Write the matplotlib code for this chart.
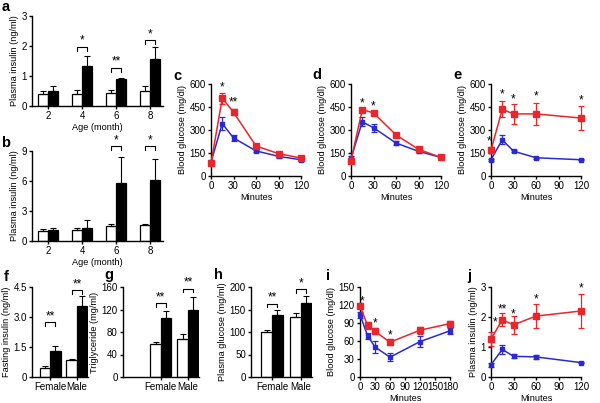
import matplotlib
matplotlib.use('Agg')
import matplotlib.pyplot as plt
import numpy as np

plt.rcParams['font.family'] = ['Liberation Sans', 'DejaVu Sans']
plt.rcParams['font.size'] = 6.5

RED = '#e8262b'
BLUE = '#2a2ad4'
TICK_FS = 7
LABEL_FS = 6.6
STAR_FS = 8.5

# ---------------- data ----------------
ages = ['2', '4', '6', '8']
a_wt = [0.39, 0.39, 0.45, 0.50]
a_wt_err = [0.11, 0.14, 0.08, 0.16]
a_ko = [0.51, 1.35, 0.90, 1.56]
a_ko_err = [0.15, 0.31, 0.05, 0.39]
a_sig = ['', '*', '**', '*']
a_sig_y = [0, 1.97, 1.27, 2.2]

b_wt = [1.03, 1.10, 1.50, 1.60]
b_wt_err = [0.17, 0.16, 0.23, 0.13]
b_ko = [1.10, 1.33, 5.81, 6.15]
b_ko_err = [0.23, 0.76, 2.6, 2.02]
b_sig = ['', '', '*', '*']
b_sig_y = [0, 0, 9.5, 9.5]

t6 = [0, 15, 30, 60, 90, 120]
c_red = [83, 507, 416, 196, 146, 117]
c_red_err = [10, 35, 20, 8, 8, 6]
c_blue = [90, 342, 248, 164, 128, 106]
c_blue_err = [8, 45, 22, 8, 8, 6]
c_sig_x = [15, 30]
c_sig = ['*', '**']
c_sig_y = [540, 440]

d_red = [100, 432, 412, 268, 174, 121]
d_red_err = [10, 8, 8, 8, 8, 6]
d_blue = [115, 353, 315, 215, 161, 121]
d_blue_err = [15, 30, 25, 15, 12, 6]
d_sig_x = [15, 30]
d_sig = ['*', '*']
d_sig_y = [436, 412]

t5 = [0, 15, 30, 60, 120]
e_red = [169, 435, 405, 405, 378]
e_red_err = [20, 53, 63, 73, 76]
e_blue = [106, 236, 162, 119, 106]
e_blue_err = [6, 30, 8, 5, 4]
e_sig_x = [-3, 15, 30, 60, 120]
e_sig = ['*', '*', '*', '*', '*']
e_sig_y = [185, 495, 462, 478, 455]

sexes = ['Female', 'Male']
f_wt = [0.45, 0.83]
f_wt_err = [0.08, 0.09]
f_ko = [1.28, 3.57]
f_ko_err = [0.25, 0.46]
f_sig = ['**', '**']
f_sig_y = [2.75, 4.33]

g_wt = [58, 68]
g_wt_err = [5, 9]
g_ko = [105.5, 120]
g_ko_err = [11.5, 23]
g_sig = ['**', '**']
g_sig_y = [131.5, 157]

h_wt = [100, 133]
h_wt_err = [5, 10]
h_ko = [137, 165]
h_ko_err = [11, 14]
h_sig = ['**', '*']
h_sig_y = [163, 195]

t_i = [0, 15, 30, 60, 120, 180]
i_red = [119, 86, 76, 58, 78, 89]
i_red_err = [4, 6, 5, 5, 6, 5]
i_blue = [104, 69, 50, 33, 59, 77]
i_blue_err = [5, 5, 10, 7, 9, 5]
i_sig_x = [5, 30, 60]
i_sig = ['*', '*', '*']
i_sig_y = [116, 79, 59]

j_red = [1.26, 1.91, 1.74, 2.03, 2.20]
j_red_err = [0.24, 0.22, 0.29, 0.41, 0.58]
j_blue = [0.41, 0.92, 0.69, 0.67, 0.48]
j_blue_err = [0.06, 0.16, 0.07, 0.08, 0.02]
j_sig_x = [5, 15.5, 30, 60, 120]
j_sig = ['*', '**', '*', '*', '*']
j_sig_y = [1.62, 2.05, 1.88, 2.38, 2.74]

# ---------------- figure ----------------
W, H = 600, 403
fig = plt.figure(figsize=(6, 4.03), dpi=100)


def add_ax(x0, x1, yt, yb):
    ax = fig.add_axes([x0 / W, 1 - yb / H, (x1 - x0) / W, (yb - yt) / H])
    for s in ['top', 'right']:
        ax.spines[s].set_visible(False)
    for s in ['left', 'bottom']:
        ax.spines[s].set_linewidth(1.0)
    ax.tick_params(length=2.5, width=1, pad=1.2, labelsize=TICK_FS)
    return ax


def bracket(ax, x1, x2, y, h, text):
    ax.plot([x1, x1, x2, x2], [y - h, y, y, y - h], color='black', lw=0.8,
            clip_on=False)
    ax.text((x1 + x2) / 2, y, text, ha='center', va='bottom', fontsize=STAR_FS,
            clip_on=False)


def bars(ax, labels, wt, wt_err, ko, ko_err, sig, sig_y, bw, h):
    x = np.arange(len(labels))
    ax.bar(x - bw / 2, wt, bw, color='white', edgecolor='black', lw=0.9,
           yerr=[np.zeros(len(wt)), wt_err],
           error_kw=dict(ecolor='black', elinewidth=0.8, capsize=2.2, capthick=0.8))
    ax.bar(x + bw / 2, ko, bw, color='black', edgecolor='black', lw=0.9,
           yerr=[np.zeros(len(ko)), ko_err],
           error_kw=dict(ecolor='black', elinewidth=0.8, capsize=2.2, capthick=0.8))
    for xi, s, y in zip(x, sig, sig_y):
        if s:
            bracket(ax, xi - bw / 2, xi + bw / 2, y, h, s)
    ax.set_xticks(x)
    ax.set_xticklabels(labels)


def lines(ax, t, red, red_err, blue, blue_err):
    ax.errorbar(t, blue, yerr=blue_err, color=BLUE, marker='s', ms=3.2,
                lw=1.1, capsize=2, elinewidth=0.9, capthick=0.9, clip_on=False,
                zorder=3)
    ax.errorbar(t, red, yerr=red_err, color=RED, marker='s', ms=3.8,
                lw=1.1, capsize=2, elinewidth=0.9, capthick=0.9, clip_on=False,
                zorder=4)


def stars(ax, xs, ss, ys):
    for x, s, y in zip(xs, ss, ys):
        ax.text(x, y, s, ha='center', va='bottom', fontsize=STAR_FS, clip_on=False)


def plabel(x, y, s):
    fig.text(x / W, 1 - y / H, s, fontsize=10.5, fontweight='bold',
             ha='center', va='center')


def labels(ax, yl, xl=None):
    ax.set_ylabel(yl, fontsize=LABEL_FS, labelpad=2)
    if xl:
        ax.set_xlabel(xl, fontsize=LABEL_FS, labelpad=1)


# a
ax = add_ax(32, 163, 16, 106)
bars(ax, ages, a_wt, a_wt_err, a_ko, a_ko_err, a_sig, a_sig_y, 0.29, 0.12)
ax.set_xlim(-0.47, 3.38)
ax.set_ylim(0, 3)
ax.set_yticks([0, 1, 2, 3])
labels(ax, 'Plasma insulin (ng/ml)', 'Age (month)')
plabel(6, 7, 'a')

# b
ax = add_ax(32, 163, 151, 241)
bars(ax, ages, b_wt, b_wt_err, b_ko, b_ko_err, b_sig, b_sig_y, 0.29, 0.36)
ax.set_xlim(-0.47, 3.38)
ax.set_ylim(0, 9)
ax.set_yticks([0, 3, 6, 9])
labels(ax, 'Plasma insulin (ng/ml)', 'Age (month)')
plabel(6, 143, 'b')

# c
ax = add_ax(211, 301, 84, 176)
lines(ax, t6, c_red, c_red_err, c_blue, c_blue_err)
stars(ax, c_sig_x, c_sig, c_sig_y)
ax.set_xlim(0, 120)
ax.set_ylim(0, 600)
ax.set_xticks([0, 30, 60, 90, 120])
ax.set_yticks([0, 150, 300, 450, 600])
labels(ax, 'Blood glucose (mg/dl)', 'Minutes')
plabel(177, 76, 'c')

# d
ax = add_ax(351, 441, 84, 176)
lines(ax, t6, d_red, d_red_err, d_blue, d_blue_err)
stars(ax, d_sig_x, d_sig, d_sig_y)
ax.set_xlim(0, 120)
ax.set_ylim(0, 600)
ax.set_xticks([0, 30, 60, 90, 120])
ax.set_yticks([0, 150, 300, 450, 600])
labels(ax, 'Blood glucose (mg/dl)', 'Minutes')
plabel(317, 75, 'd')

# e
ax = add_ax(491, 581, 84, 176)
lines(ax, t5, e_red, e_red_err, e_blue, e_blue_err)
stars(ax, e_sig_x, e_sig, e_sig_y)
ax.set_xlim(0, 120)
ax.set_ylim(0, 600)
ax.set_xticks([0, 30, 60, 90, 120])
ax.set_yticks([0, 150, 300, 450, 600])
labels(ax, 'Blood glucose (mg/dl)', 'Minutes')
plabel(457, 75, 'e')

# f
ax = add_ax(32, 88, 287, 377)
bars(ax, sexes, f_wt, f_wt_err, f_ko, f_ko_err, f_sig, f_sig_y, 0.39, 0.18)
ax.set_xlim(-0.67, 1.41)
ax.set_ylim(0, 4.5)
ax.set_yticks([0, 1.5, 3.0, 4.5])
ax.set_yticklabels(['0', '1.5', '3.0', '4.5'])
labels(ax, 'Fasting insulin (ng/ml)')
plabel(6, 277, 'f')

# g
ax = add_ax(123, 199, 287, 377)
bars(ax, sexes, g_wt, g_wt_err, g_ko, g_ko_err, g_sig, g_sig_y, 0.39, 6.5)
ax.set_xlim(-1.4, 1.41)
ax.set_ylim(0, 160)
ax.set_yticks([0, 40, 80, 120, 160])
labels(ax, 'Triglyceride (mg/ml)')
plabel(109, 275, 'g')

# h
ax = add_ax(251, 312, 287, 377)
bars(ax, sexes, h_wt, h_wt_err, h_ko, h_ko_err, h_sig, h_sig_y, 0.37, 8)
ax.set_xlim(-0.72, 1.38)
ax.set_ylim(0, 200)
ax.set_yticks([0, 50, 100, 150, 200])
labels(ax, 'Plasma glucose (mg/ml)')
plabel(218, 275, 'h')

# i
ax = add_ax(360, 450, 287, 377)
lines(ax, t_i, i_red, i_red_err, i_blue, i_blue_err)
stars(ax, i_sig_x, i_sig, i_sig_y)
ax.set_xlim(0, 180)
ax.set_ylim(0, 150)
ax.set_xticks([0, 30, 60, 90, 120, 150, 180])
ax.set_yticks([0, 30, 60, 90, 120, 150])
labels(ax, 'Blood glucose (mg/dl)', 'Minutes')
plabel(328, 276, 'i')

# j
ax = add_ax(491, 581, 287, 377)
lines(ax, t5, j_red, j_red_err, j_blue, j_blue_err)
stars(ax, j_sig_x, j_sig, j_sig_y)
ax.set_xlim(0, 120)
ax.set_ylim(0, 3)
ax.set_xticks([0, 30, 60, 90, 120])
ax.set_yticks([0, 1, 2, 3])
labels(ax, 'Plasma insulin (ng/ml)', 'Minutes')
plabel(469, 276, 'j')

fig.savefig('out.png', dpi=100)
